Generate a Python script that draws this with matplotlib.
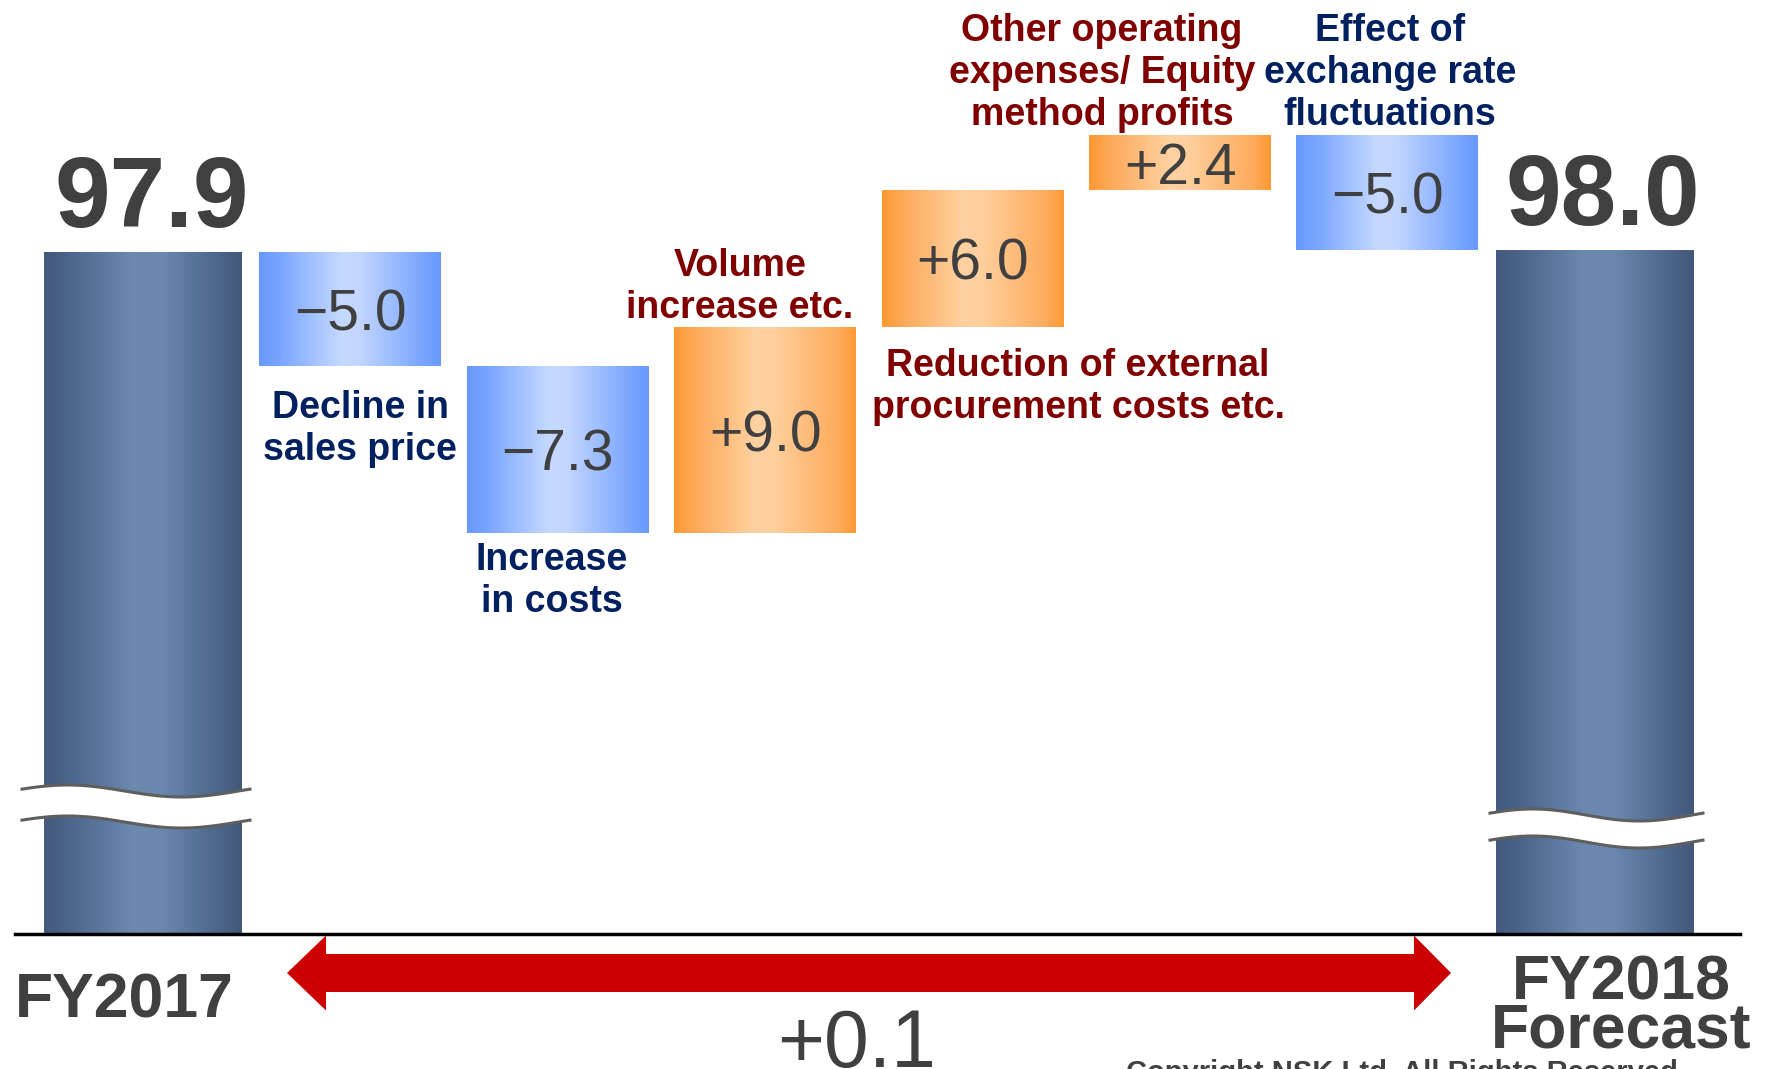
import numpy as np
import matplotlib
matplotlib.use("Agg")
import matplotlib.pyplot as plt
from matplotlib.colors import LinearSegmentedColormap
from matplotlib.patches import Polygon
from matplotlib.lines import Line2D

# ---------------- data ----------------
start_label = "FY2017"
end_label = "FY2018\nForecast"
start_total = 97.9
end_total = 98.0
change_names = [
    "Decline in\nsales price",
    "Increase\nin costs",
    "Volume\nincrease etc.",
    "Reduction of external\nprocurement costs etc.",
    "Other operating\nexpenses/ Equity\nmethod profits",
    "Effect of\nexchange rate\nfluctuations",
]
changes = [-5.0, -7.3, 9.0, 6.0, 2.4, -5.0]
change_texts = ["\u22125.0", "\u22127.3", "+9.0", "+6.0", "+2.4", "\u22125.0"]
total_texts = ["97.9", "98.0"]
net_text = "+0.1"
copyright_text = "Copyright NSK Ltd. All Rights Reserved"

# ---------------- layout / style ----------------
W, H = 1767, 1069
FONT = "Liberation Sans"
DARK = "#404040"
NAVY = "#002060"
MAROON = "#800000"
BASE = 68.05          # broken-axis baseline value
STEP_PX = 207.4       # pixels per category
X0_PX = 143.0         # pixel x of first category
Y_REF_PX = 252.0      # pixel y of start_total
K_PX = 22.85          # pixels per unit

fig = plt.figure(figsize=(W / 100, H / 100), dpi=100)
fig.patch.set_facecolor("white")
ax = fig.add_axes([0, 0, 1, 1])
ax.axis("off")
xlim = (-X0_PX / STEP_PX, (W - X0_PX) / STEP_PX)
ylim = (start_total - (H - Y_REF_PX) / K_PX, start_total + Y_REF_PX / K_PX)


def fx(xp):
    return xp / W


def fy(yp):
    return 1 - yp / H


total_cmap = LinearSegmentedColormap.from_list(
    "tot", [(0, "#435a7e"), (0.1, "#4a6287"), (0.45, "#6c89b0"), (0.6, "#6a88ae"), (0.9, "#4b6388"), (1, "#425879")])
blue_cmap = LinearSegmentedColormap.from_list(
    "neg", [(0, "#6699ff"), (0.12, "#7aa6ff"), (0.45, "#c6d9ff"), (0.55, "#c2d6ff"), (0.9, "#7aa6ff"), (1, "#6699ff")])
orange_cmap = LinearSegmentedColormap.from_list(
    "pos", [(0, "#ff9933"), (0.12, "#fdaa5a"), (0.45, "#ffd2a2"), (0.55, "#ffcf9c"), (0.9, "#fdac5e"), (1, "#ff9933")])
grad = np.linspace(0, 1, 256)[np.newaxis, :]


def gradient_fill(patches, cmap):
    for p in patches:
        p.set_facecolor("none")
        p.set_edgecolor("none")
        x, y, w, h = p.get_x(), p.get_y(), p.get_width(), p.get_height()
        im = ax.imshow(grad, extent=[x, x + w, y, y + h], aspect="auto",
                       cmap=cmap, origin="lower", zorder=2, interpolation="bilinear")
        im.set_clip_path(p)


# ---------------- bars ----------------
n = len(changes)
pos_total = [0, n + 1]
pos_change = np.arange(1, n + 1)
levels = start_total + np.cumsum([0] + changes)
bottoms = np.minimum(levels[:-1], levels[1:])
heights = np.abs(changes)

tot = ax.bar(pos_total, [start_total - BASE, end_total - BASE], bottom=BASE, width=0.95, zorder=2)
gradient_fill(tot.patches, total_cmap)

neg_idx = [i for i, c in enumerate(changes) if c < 0]
pos_idx = [i for i, c in enumerate(changes) if c > 0]
negb = ax.bar(pos_change[neg_idx], heights[neg_idx], bottom=bottoms[neg_idx], width=0.877, zorder=2)
gradient_fill(negb.patches, blue_cmap)
posb = ax.bar(pos_change[pos_idx], heights[pos_idx], bottom=bottoms[pos_idx], width=0.877, zorder=2)
gradient_fill(posb.patches, orange_cmap)

# values in boxes
for i, c in enumerate(changes):
    ax.text(pos_change[i], bottoms[i] + heights[i] / 2, change_texts[i], ha="center",
            va="center_baseline", fontsize=41, color=DARK, family=FONT, zorder=5)

# big totals
for p, v, t in zip(pos_total, [start_total, end_total], total_texts):
    ax.annotate(t, (p, v), xytext=(6, 18), textcoords="offset points",
                ha="center", va="baseline", fontsize=72, fontweight="bold",
                color=DARK, family=FONT, zorder=5)

ax.set_xlim(*xlim)
ax.set_ylim(*ylim)

# ---------------- break marks ----------------
def wave(x_left, x_right, yc, amp=6.0, phase=0.05, npts=80):
    xs = np.linspace(x_left, x_right, npts)
    t = (xs - x_left) / (x_right - x_left)
    ys = yc - amp * np.sin(2 * np.pi * (t + phase))
    return xs, ys


for (xl, xr, y_up, y_lo) in [(22, 250, 791, 822), (1490, 1703, 815, 842)]:
    xs, yu = wave(xl, xr, y_up)
    _, yl = wave(xl, xr, y_lo)
    poly = np.vstack([np.column_stack([xs, yu]), np.column_stack([xs[::-1], yl[::-1]])])
    fig.patches.append(Polygon(np.column_stack([fx(poly[:, 0]), fy(poly[:, 1])]),
                               closed=True, transform=fig.transFigure,
                               facecolor="white", edgecolor="none", zorder=3))
    for yy in (yu, yl):
        fig.lines.append(Line2D(fx(xs), fy(yy), transform=fig.transFigure,
                                color="#5f5f5f", lw=2.2, zorder=4))

# baseline
fig.lines.append(Line2D([fx(15), fx(1740)], [fy(934), fy(934)], transform=fig.transFigure,
                        color="black", lw=2.5, zorder=4))

# ---------------- labels ----------------
label_pos = [(360, 429), (552, 581), (740, 287), (1078, 387), (1102, 73), (1390, 73)]
for i, (name, (lx, ly)) in enumerate(zip(change_names, label_pos)):
    col = NAVY if changes[i] < 0 else MAROON
    fig.text(fx(lx), fy(ly), name, ha="center", va="center", fontsize=27,
             fontweight="bold", color=col, family=FONT, linespacing=1.2, zorder=6)

fig.text(fx(124), fy(1017), start_label, ha="center", va="baseline", fontsize=45,
         fontweight="bold", color=DARK, family=FONT)
fig.text(fx(1621), fy(1000), end_label.split("\n")[0], ha="center", va="baseline", fontsize=45,
         fontweight="bold", color=DARK, family=FONT)
fig.text(fx(1621), fy(1047), end_label.split("\n")[1], ha="center", va="baseline", fontsize=45,
         fontweight="bold", color=DARK, family=FONT)

# net change arrow
ayc, sh, hh = 973, 19, 37.5
lt, lb, rb, rt = 287, 326, 1414, 1451
arrow = [(lt, ayc), (lb, ayc - hh), (lb, ayc - sh), (rb, ayc - sh), (rb, ayc - hh), (rt, ayc),
         (rb, ayc + hh), (rb, ayc + sh), (lb, ayc + sh), (lb, ayc + hh)]
fig.patches.append(Polygon([(fx(a), fy(b)) for a, b in arrow], closed=True,
                           transform=fig.transFigure, facecolor="#cc0000", edgecolor="none", zorder=5))
fig.text(fx(857), fy(1067), net_text, ha="center", va="baseline", fontsize=58,
         color=DARK, family=FONT)

fig.text(fx(1402), fy(1059), copyright_text, ha="center", va="top", fontsize=21,
         fontweight="bold", color=DARK, family=FONT)

fig.savefig("out.png", dpi=100, facecolor="white")
